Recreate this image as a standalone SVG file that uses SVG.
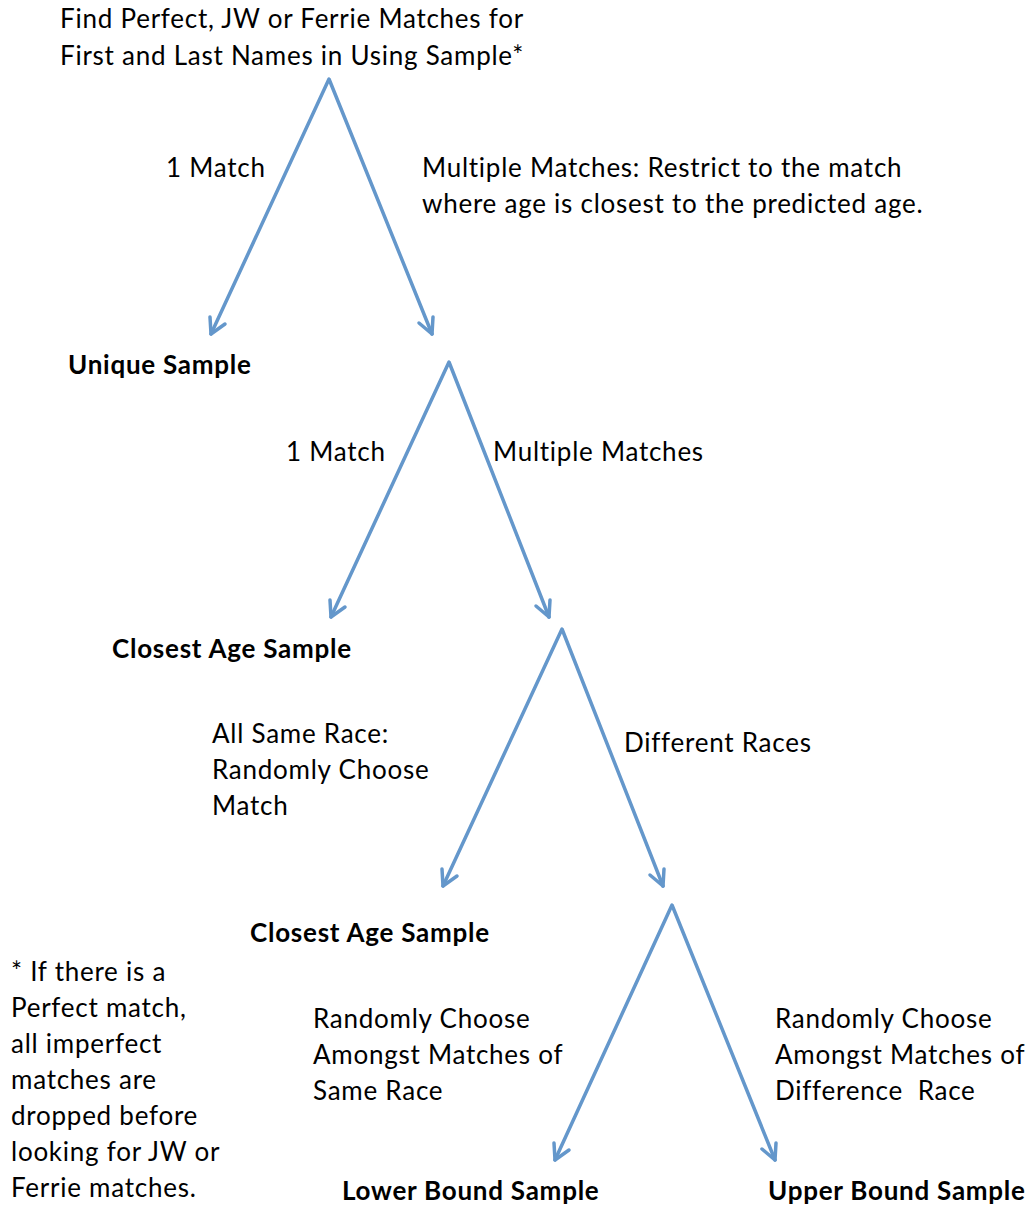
<svg xmlns="http://www.w3.org/2000/svg" width="1036" height="1208" viewBox="0 0 1036 1208">
<defs>
<style>
text{font-family:Lato,"Liberation Sans",sans-serif;font-size:26px;letter-spacing:0.75px;fill:#000}
.b{font-weight:bold}
.c{stroke:#6497CB;stroke-width:3.5;fill:none;stroke-linecap:round;stroke-linejoin:round}
</style>
</defs>
<rect width="1036" height="1208" fill="#fff"/>
<g id="connectors" class="c">
<path d="M211,334 L329,79 L432,334"/>
<path d="M211,334 l-1,-17 M211,334 l14,-10"/>
<path d="M432,334 l-13,-11 M432,334 l1,-17"/>
<path d="M331,617 L449,362 L549,617"/>
<path d="M331,617 l-1,-17 M331,617 l14,-10"/>
<path d="M549,617 l-13,-11 M549,617 l1,-17"/>
<path d="M443,886 L562,629 L663,886"/>
<path d="M443,886 l-1,-17 M443,886 l14,-10"/>
<path d="M663,886 l-13,-11 M663,886 l1,-17"/>
<path d="M555,1160 L672,905 L775,1160"/>
<path d="M555,1160 l-1,-17 M555,1160 l14,-10"/>
<path d="M775,1160 l-13,-11 M775,1160 l1,-17"/>
</g>
<g id="title"><text x="292" y="28" text-anchor="middle">Find Perfect, JW or Ferrie Matches for</text><text x="292" y="65" text-anchor="middle">First and Last Names in Using Sample*</text></g>
<g id="label-1match-a"><text x="166" y="177">1 Match</text></g>
<g id="label-multi-a"><text x="422" y="177">Multiple Matches: Restrict to the match</text><text x="422" y="213">where age is closest to the predicted age.</text></g>
<g id="node-unique"><text class="b" x="68" y="374">Unique Sample</text></g>
<g id="label-1match-b"><text x="286" y="461">1 Match</text></g>
<g id="label-multi-b"><text x="493" y="461">Multiple Matches</text></g>
<g id="node-closest1"><text class="b" x="112" y="658">Closest Age Sample</text></g>
<g id="label-same"><text x="212" y="743">All Same Race:</text><text x="212" y="779">Randomly Choose</text><text x="212" y="815">Match</text></g>
<g id="label-diff"><text x="624" y="752">Different Races</text></g>
<g id="node-closest2"><text class="b" x="250" y="942">Closest Age Sample</text></g>
<g id="footnote"><text x="11" y="981">* If there is a</text><text x="11" y="1017">Perfect match,</text><text x="11" y="1053">all imperfect</text><text x="11" y="1089">matches are</text><text x="11" y="1125">dropped before</text><text x="11" y="1161">looking for JW or</text><text x="11" y="1197">Ferrie matches.</text></g>
<g id="label-rand-same"><text x="313" y="1028">Randomly Choose</text><text x="313" y="1064">Amongst Matches of</text><text x="313" y="1100">Same Race</text></g>
<g id="label-rand-diff"><text x="775" y="1028">Randomly Choose</text><text x="775" y="1064">Amongst Matches of</text><text x="775" y="1100" xml:space="preserve">Difference  Race</text></g>
<g id="node-lower"><text class="b" x="342" y="1200">Lower Bound Sample</text></g>
<g id="node-upper"><text class="b" x="768" y="1200">Upper Bound Sample</text></g>
</svg>
